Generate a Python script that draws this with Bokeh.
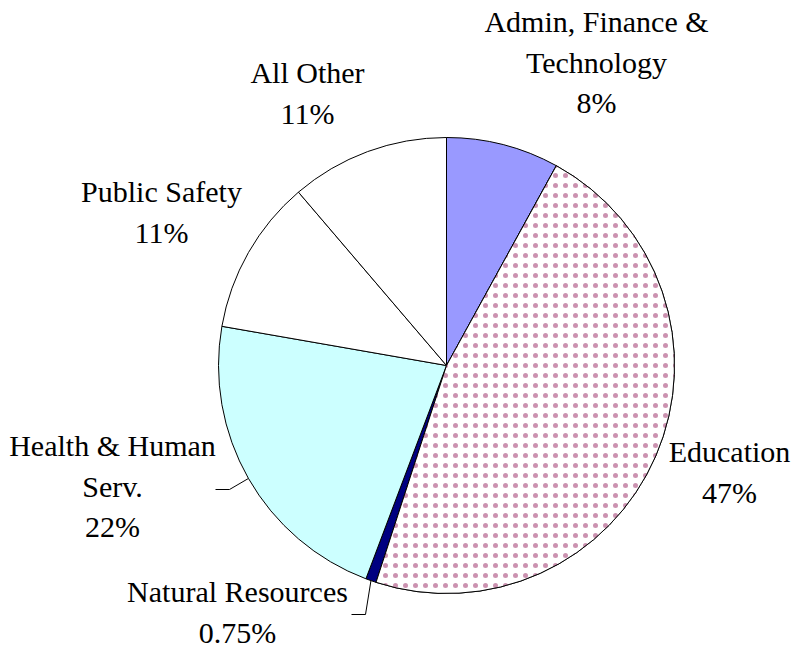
import numpy as np
from bokeh.plotting import figure
from bokeh.models import Range1d, ColumnDataSource
from bokeh.core.properties import value
from bokeh.embed import file_html
from bokeh.resources import INLINE

# ---------------- data ----------------
categories = ["Admin, Finance &\nTechnology", "Education", "Natural Resources",
              "Health & Human\nServ.", "Public Safety", "All Other"]
shares = [8.0, 47.0, 0.75, 22.0, 11.0, 11.25]
pct_labels = ["8%", "47%", "0.75%", "22%", "11%", "11%"]
colors = ["#9999FF", "#FFFFFF", "#000080", "#CCFFFF", "#FFFFFF", "#FFFFFF"]
hatched = [False, True, False, False, False, False]

# ---------------- layout ----------------
W, H = 794, 650
def px(X):
    return X
def py(Y):
    return H - Y

cx, cy, R = px(446), py(365), 228
TEXT_SHIFT = -11  # compensate for rendered baseline offset
# page coords (x centre, first baseline) of each label block
label_anchor = [(596, 32), (729, 462), (237, 602), (112, 456), (161, 202), (307, 83)]
line_gap = 40.5
# elbow / end of leader lines (page coords) for labels that have them
leader_pts = {2: [(365, 614), (351, 614)], 3: [(229, 489), (215, 489)]}
FONT = "Liberation Serif"
FS = "30px"

# ---------------- geometry from data ----------------
vals = np.array(shares, dtype=float)
frac = vals / vals.sum()
cum = np.concatenate([[0.0], np.cumsum(frac)])
start = np.pi / 2 - 2 * np.pi * cum[:-1]
end = np.pi / 2 - 2 * np.pi * cum[1:]
mid = np.pi / 2 - 2 * np.pi * (cum[:-1] + cum[1:]) / 2

p = figure(width=W, height=H, x_range=Range1d(0, W), y_range=Range1d(0, H),
           output_backend="svg", toolbar_location=None, min_border=0,
           x_axis_location=None, y_axis_location=None)
p.grid.visible = False
p.outline_line_color = None
p.background_fill_color = "white"
p.border_fill_color = "white"

src = ColumnDataSource(dict(start=start, end=end, color=colors))
p.wedge(x=cx, y=cy, radius=R, start_angle="start", end_angle="end", direction="clock",
        fill_color="color", line_color="black", line_width=1, source=src)

hi = [i for i, h in enumerate(hatched) if h]
hsrc = ColumnDataSource(dict(start=start[hi], end=end[hi]))
p.wedge(x=cx, y=cy, radius=R, start_angle="start", end_angle="end", direction="clock",
        fill_color="white", fill_alpha=1, line_color="black", line_width=1,
        hatch_pattern="dot", hatch_scale=10, hatch_weight=1,
        hatch_color="#B5648F", hatch_alpha=0.7, source=hsrc)

# leader lines
for i, pts in leader_pts.items():
    xs = [cx + R * np.cos(mid[i])] + [px(a) for a, b in pts]
    ys = [cy + R * np.sin(mid[i])] + [py(b) for a, b in pts]
    p.line(xs, ys, line_color="black", line_width=1)

# labels
tx, ty, tt = [], [], []
for i, cat in enumerate(categories):
    lines = cat.split("\n") + [pct_labels[i]]
    ax, ay = label_anchor[i]
    for k, ln in enumerate(lines):
        tx.append(px(ax))
        ty.append(py(ay + TEXT_SHIFT + k * line_gap))
        tt.append(ln)
p.text(x=tx, y=ty, text=tt, text_align="center", text_baseline="alphabetic",
       text_font=value(FONT), text_font_size=FS, text_color="black")

open("out.html", "w").write(file_html(p, INLINE))
